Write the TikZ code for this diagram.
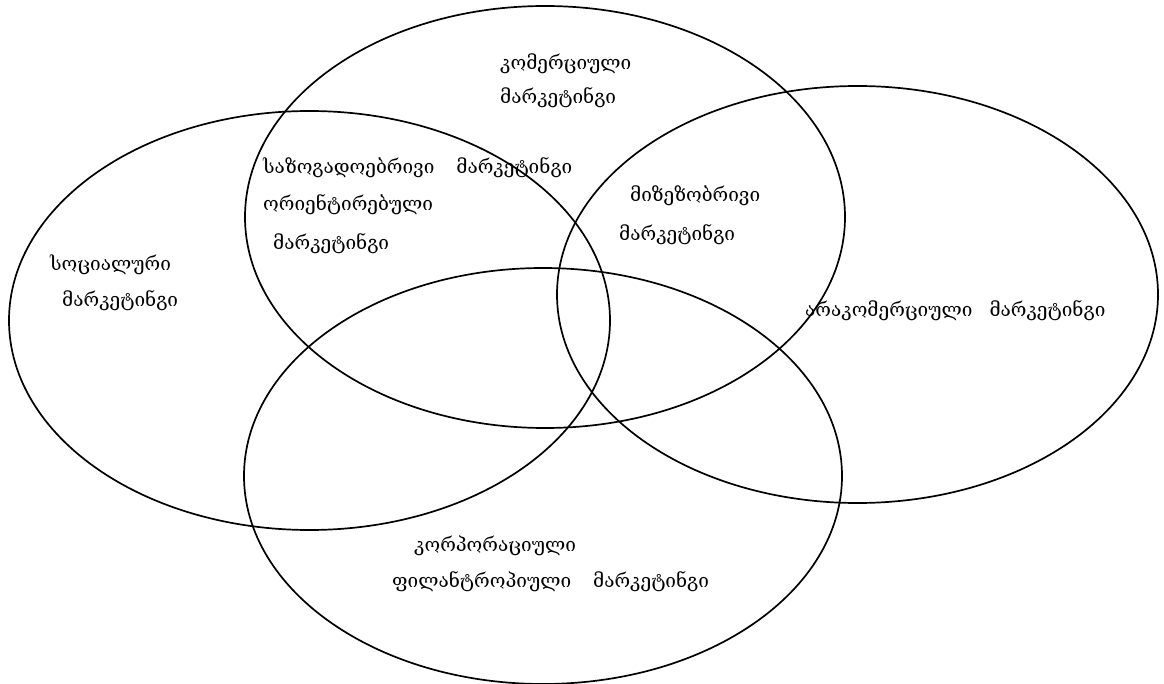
\documentclass[tikz,border=0pt]{standalone}
\usepackage{fontspec}
\newfontfamily\geo{DejaVu Serif}
\begin{document}
\begin{tikzpicture}[x=1pt,y=-1pt,
  ring/.style={line width=1.7pt},
  lbl/.style={anchor=west,inner sep=0pt,font=\geo\fontsize{19}{22}\selectfont}]
\useasboundingbox (0,0) rectangle (1164,684);
\draw[ring] (545,217) ellipse [x radius=300, y radius=211];
\draw[ring] (309.5,320.5) ellipse [x radius=300.5, y radius=209.5];
\draw[ring] (857.5,294.5) ellipse [x radius=300.5, y radius=208.5];
\draw[ring] (543,476) ellipse [x radius=299, y radius=208];
\node[lbl] (c1) at (500,64) {კომერციული};
\node[lbl] (c2) at (500,98) {მარკეტინგი};
\node[lbl] (s1) at (263,168) {საზოგადოებრივი\hspace{22pt}მარკეტინგი};
\node[lbl] (s2) at (263,205) {ორიენტირებული};
\node[lbl] (s3) at (273,244) {მარკეტინგი};
\node[lbl] (o1) at (50,265) {სოციალური};
\node[lbl] (o2) at (62,301) {მარკეტინგი};
\node[lbl] (m1) at (630,196) {მიზეზობრივი};
\node[lbl] (m2) at (619,235) {მარკეტინგი};
\node[lbl] (a1) at (805,311) {არაკომერციული\hspace{17pt}მარკეტინგი};
\node[lbl] (k1) at (414,546) {კორპორაციული};
\node[lbl] (k2) at (392,582) {ფილანტროპიული\hspace{22pt}მარკეტინგი};
\end{tikzpicture}
\end{document}
